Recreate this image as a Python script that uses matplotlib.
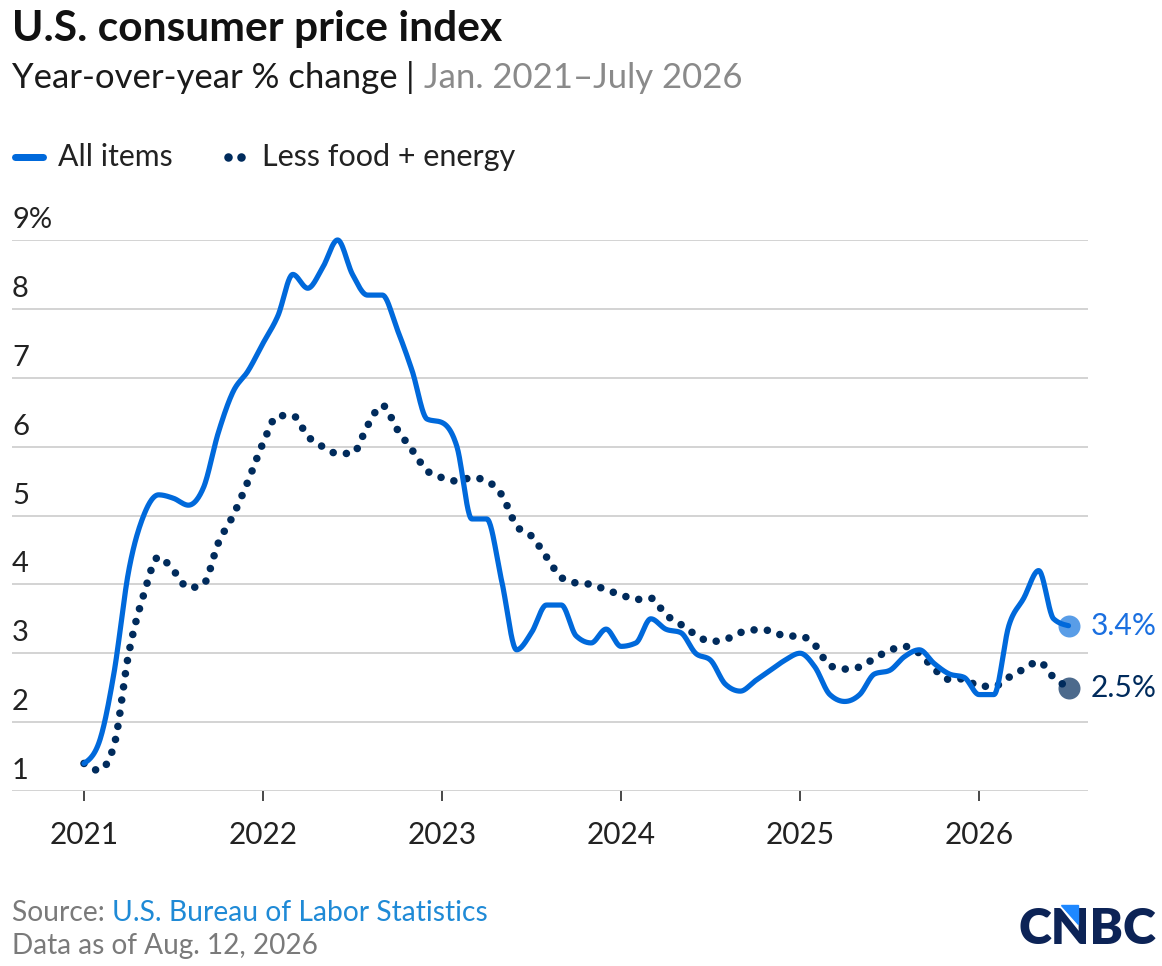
import numpy as np
import matplotlib
matplotlib.use("Agg")
import matplotlib.pyplot as plt
from matplotlib import transforms
from matplotlib.patches import Polygon

# ---------------- data ----------------
years = ["2021", "2022", "2023", "2024", "2025", "2026"]
year_months = [0, 12, 24, 36, 48, 60]
y_ticks = [1, 2, 3, 4, 5, 6, 7, 8, 9]
y_tick_labels = ["1", "2", "3", "4", "5", "6", "7", "8", "9%"]

# monthly, Jan 2021 .. Jul 2026
all_items = [
    1.4, 1.7, 2.7, 4.2, 5.0, 5.3, 5.25, 5.15, 5.4, 6.2, 6.8, 7.1,
    7.5, 7.9, 8.5, 8.3, 8.6, 9.0, 8.5, 8.2, 8.2, 7.7, 7.1, 6.4,
    6.35, 6.0, 4.95, 4.95, 4.05, 3.05, 3.3, 3.7, 3.7, 3.25, 3.15, 3.35,
    3.1, 3.15, 3.5, 3.35, 3.3, 3.0, 2.9, 2.55, 2.45, 2.6, 2.75, 2.9,
    3.0, 2.8, 2.4, 2.3, 2.4, 2.7, 2.75, 2.95, 3.05, 2.85, 2.7, 2.65,
    2.4, 2.4, 3.4, 3.8, 4.2, 3.5, 3.4,
]
core = [
    1.4, 1.3, 1.65, 3.0, 3.85, 4.4, 4.2, 3.95, 4.0, 4.6, 5.0, 5.5,
    6.05, 6.45, 6.45, 6.15, 6.0, 5.9, 5.9, 6.3, 6.6, 6.25, 5.95, 5.65,
    5.55, 5.5, 5.55, 5.5, 5.3, 4.85, 4.7, 4.4, 4.1, 4.02, 4.0, 3.92,
    3.85, 3.78, 3.8, 3.56, 3.42, 3.27, 3.17, 3.2, 3.3, 3.34, 3.33, 3.25,
    3.25, 3.12, 2.82, 2.77, 2.8, 2.93, 3.04, 3.1, 3.0, 2.77, 2.62, 2.63,
    2.52, 2.52, 2.65, 2.77, 2.88, 2.65, 2.5,
]
label_all = "All items"
label_core = "Less food + energy"
end_all = "3.4%"
end_core = "2.5%"

# ---------------- helpers ----------------
def monotone(x, y, n=24):
    x = np.asarray(x, float)
    y = np.asarray(y, float)
    h = np.diff(x)
    s = np.diff(y) / h
    t = np.zeros(len(x))
    for i in range(1, len(x) - 1):
        s0, s1, h0, h1 = s[i - 1], s[i], h[i - 1], h[i]
        p = (s0 * h1 + s1 * h0) / (h0 + h1)
        v = (np.sign(s0) + np.sign(s1)) * min(abs(s0), abs(s1), 0.5 * abs(p))
        t[i] = v if np.isfinite(v) else 0.0
    t[0] = (3 * s[0] - t[1]) / 2
    t[-1] = (3 * s[-1] - t[-2]) / 2
    xs, ys = [], []
    for i in range(len(x) - 1):
        u = np.linspace(0, 1, n, endpoint=(i == len(x) - 2))
        hh = h[i]
        h00 = 2 * u**3 - 3 * u**2 + 1
        h10 = u**3 - 2 * u**2 + u
        h01 = -2 * u**3 + 3 * u**2
        h11 = u**3 - u**2
        xs.append(x[i] + u * hh)
        ys.append(h00 * y[i] + h10 * hh * t[i] + h01 * y[i + 1] + h11 * hh * t[i + 1])
    return np.concatenate(xs), np.concatenate(ys)

W, H = 1162, 966
PT = 72 / 100.0  # points per pixel at dpi 100

def fx(px):
    return px / W

def fy(py):
    return 1 - py / H

BLUE = "#0069DB"
NAVY = "#002B5C"
GRID = "#d4d4d4"
TXT = "#222222"
GRAY = "#8a8a8a"
FONT = "Lato"

plt.rcParams["font.family"] = [FONT, "DejaVu Sans"]

fig = plt.figure(figsize=(W / 100, H / 100), dpi=100)
fig.patch.set_facecolor("white")

ax_left, ax_right, ax_top, ax_bot = 12, 1088, 240, 791
ax = fig.add_axes([fx(ax_left), fy(ax_bot), fx(ax_right - ax_left), (ax_bot - ax_top) / H])
ax.set_facecolor("none")

px_per_month = (979 - 84) / 60.0
x0 = -(84 - ax_left) / px_per_month
x1 = x0 + (ax_right - ax_left) / px_per_month
ax.set_xlim(x0, x1)
ax.set_ylim(1, 9)

for s in ax.spines.values():
    s.set_visible(False)

for v in y_ticks:
    ax.axhline(v, color=GRID, lw=2 * PT, zorder=1)

ax.set_yticks([])
ax.set_xticks(year_months)
ax.set_xticklabels(years, fontsize=21.5, color=TXT)
ax.tick_params(axis="x", length=10 * PT, width=1.6 * PT, color="#222222", pad=20 * PT)

months = np.arange(len(all_items))
xa, ya = monotone(months, all_items)
xc, yc = monotone(months, core)

ax.plot(xc, yc, color=NAVY, lw=7.6 * PT, linestyle=(0, (0.001, 13.3 / 7.6)),
        dash_capstyle="round", solid_capstyle="round", zorder=3, clip_on=False)
ax.plot(xa, ya, color=BLUE, lw=5.2 * PT, solid_capstyle="round",
        solid_joinstyle="round", zorder=4, clip_on=False)

ax.plot([months[-1]], [all_items[-1]], "o", ms=22 * PT, color=BLUE, alpha=0.65,
        mec="none", zorder=5, clip_on=False)
ax.plot([months[-1]], [core[-1]], "o", ms=22 * PT, color=NAVY, alpha=0.7,
        mec="none", zorder=5, clip_on=False)

ax.annotate(end_all, (months[-1], all_items[-1]), xytext=(22 * PT, 0),
            textcoords="offset points", va="center", ha="left", fontsize=21.6,
            color="#1a6fe0", annotation_clip=False)
ax.annotate(end_core, (months[-1], core[-1]), xytext=(22 * PT, 0),
            textcoords="offset points", va="center", ha="left", fontsize=21.6,
            color=NAVY, annotation_clip=False)

# y tick labels above gridlines
trans = transforms.blended_transform_factory(ax.transAxes, ax.transData)
for v, lab in zip(y_ticks, y_tick_labels):
    ax.annotate(lab, (0, v), xycoords=trans, xytext=(0, 20 * PT),
                textcoords="offset points", va="center", ha="left",
                fontsize=21, color=TXT, annotation_clip=False)

# ---------------- titles ----------------
fig.text(fx(12), fy(29), "U.S. consumer price index", fontsize=30.6, fontweight="bold",
         color="#111111", va="center", ha="left")

renderer = fig.canvas.get_renderer()

def seq_text(x_px, y_px, parts, size, weight="normal"):
    x = x_px
    for txt, col in parts:
        t = fig.text(fx(x), fy(y_px), txt, fontsize=size, color=col, va="center",
                     ha="left", fontweight=weight)
        bb = t.get_window_extent(renderer=renderer)
        x += bb.width
    return x

seq_text(12, 78, [("Year-over-year % change ", "#1a1a1a"), ("| ", "#1a1a1a"),
                  ("Jan. 2021\u2013July 2026", GRAY)], 25)

# legend
fig.lines.append(plt.Line2D([fx(15), fx(43)], [fy(157), fy(157)], transform=fig.transFigure,
                            color=BLUE, lw=7 * PT, solid_capstyle="round"))
fig.text(fx(58), fy(157), label_all, fontsize=21.8, color=TXT, va="center", ha="left")
fig.lines.append(plt.Line2D([fx(228), fx(241)], [fy(157), fy(157)], transform=fig.transFigure,
                            color=NAVY, lw=0, marker="o", ms=8.5 * PT, mec="none"))
fig.text(fx(262), fy(157), label_core, fontsize=22, color=TXT, va="center", ha="left")

# footer
seq_text(12, 913, [("Source: ", "#7a7a7a"), ("U.S. Bureau of Labor Statistics", "#1f8ad6")], 20.3)
fig.text(fx(12), fy(946), "Data as of Aug. 12, 2026", fontsize=20.2, color="#7a7a7a",
         va="center", ha="left")

# logo
fig.text(fx(1156), fy(929), "CNBC", fontsize=36, fontweight="heavy", color="#0c2356",
         va="center", ha="right")
tri = Polygon([[fx(1061), fy(905)], [fx(1078), fy(905)], [fx(1078), fy(924)]],
              closed=True, transform=fig.transFigure, color="#1e88ff", zorder=10)
fig.patches.append(tri)

fig.savefig("out.png", dpi=100, facecolor="white")
